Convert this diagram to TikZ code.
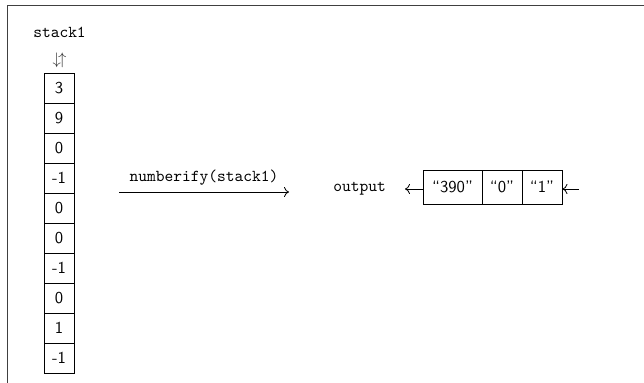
\documentclass[tikz,border=0pt]{standalone}
\usetikzlibrary{arrows.meta}
\begin{document}
\begin{tikzpicture}[x={(0.6pt,0)}, y={(0,-0.6pt)},
  cell/.style={draw, line width=0.5pt, inner sep=0pt, minimum width=18pt, minimum height=18pt, font=\sffamily},
  qcell/.style={draw, line width=0.5pt, inner sep=0pt, minimum height=20.4pt, font=\sffamily},
  lbl/.style={font=\ttfamily, inner sep=0pt},
  flow/.style={line width=0.5pt, -{To[length=3pt,width=6pt]}}]
\useasboundingbox (0,0) rectangle (644,383);
% outer frame, running past the right and bottom edges
\draw[line width=0.8pt, black!75] (7.5,700) -- (7.5,5.5) -- (900,5.5);

% the stack
\node[lbl] (title) at (59.5,32) {stack1};
\node[inner sep=0pt, text=black!80] (ends) at (59.5,60) {$\downarrow\!\uparrow$};
\foreach \v [count=\i from 0] in {3,9,0,-1,0,0,-1,0,1,-1}
  \node[cell] (s\i) at (59,{88+30*\i}) {\v};

% transformation arrow
\coordinate (fa) at (119,192);
\coordinate (fb) at (289,192);
\draw[flow] (fa) -- node[lbl, above=4pt] (fn) {numberify(stack1)} (fb);

% output queue
\node[lbl] (out) at (359.5,189) {output};
\node[qcell, minimum width=35.4pt] (q1) at (452.5,187) {``390''};
\node[qcell, minimum width=24pt] (q2) at (502,187) {``0''};
\node[qcell, minimum width=24pt] (q3) at (542,187) {``1''};
\coordinate (ol) at (405,189);
\coordinate (ir) at (579,189);
\draw[flow] (q1.west |- ol) -- (ol);
\draw[flow] (ir) -- (q3.east |- ir);
\end{tikzpicture}
\end{document}
